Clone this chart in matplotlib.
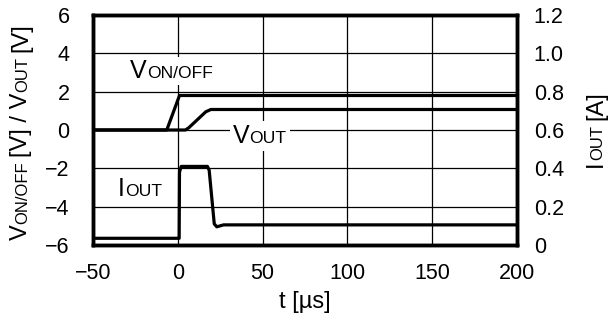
import matplotlib
matplotlib.use("Agg")
import matplotlib.pyplot as plt
from matplotlib.patches import Rectangle
from matplotlib.transforms import IdentityTransform

plt.rcParams['font.family'] = ['Liberation Sans', 'DejaVu Sans']

# traces
t_onoff = [-50, -6.5, 1.0, 200]
v_onoff = [0, 0, 1.8, 1.8]

t_vout = [-50, 4.5, 6.5, 16.5, 19.5, 200]
v_vout = [0, 0, 0.12, 0.95, 1.07, 1.07]

t_iout = [-50, 0.8, 1.0, 2.0, 17.5, 18.5, 21.5, 23.0, 27.0, 200]
i_iout = [0.035, 0.035, 0.38, 0.41, 0.41, 0.39, 0.11, 0.095, 0.105, 0.105]

x_ticks = [-50, 0, 50, 100, 150, 200]
v_ticks = [-6, -4, -2, 0, 2, 4, 6]
i_ticks = [0, 0.2, 0.4, 0.6, 0.8, 1.0, 1.2]
i_tick_labels = ["0", "0.2", "0.4", "0.6", "0.8", "1.0", "1.2"]

TICK_FS = 15.5
BIG = 17
SMALL = 12
LBL_BIG = 18
LBL_SMALL = 12.6


def rich_text(fig, x, y, pieces, rotation=0, background=None, ax=None):
    """Draw text pieces of different sizes on one baseline, start at (x, y) px."""
    r = fig.canvas.get_renderer()
    arts = []
    for s, size in pieces:
        if s is None:  # a gap in pixels
            if rotation == 90:
                y += size
            else:
                x += size
            continue
        t = fig.text(x / fig.bbox.width, y / fig.bbox.height, s, fontsize=size,
                     rotation=rotation, rotation_mode='anchor',
                     ha='left', va='baseline', zorder=5)
        bb = t.get_window_extent(r)
        if rotation == 90:
            y = bb.y1
        else:
            x = bb.x1
        arts.append(bb)
    if background is not None:
        x0 = min(b.x0 for b in arts) - background
        x1 = max(b.x1 for b in arts) + background
        y0 = min(b.y0 for b in arts) - background
        y1 = max(b.y1 for b in arts) + background
        ax.add_patch(Rectangle((x0, y0), x1 - x0, y1 - y0, transform=IdentityTransform(),
                               facecolor='white', edgecolor='none', zorder=2.5))
    return arts


def main():
    fig = plt.figure(figsize=(6.09, 3.24), dpi=100)
    ax = fig.add_axes([93 / 609, 1 - 245 / 324, 424 / 609, 230 / 324])
    ax2 = ax.twinx()

    ax.plot(t_onoff, v_onoff, color='black', lw=2.3, zorder=3)
    ax.plot(t_vout, v_vout, color='black', lw=2.3, zorder=3)
    ax2.plot(t_iout, i_iout, color='black', lw=2.3, zorder=3)

    ax.set_xlim(-50, 200)
    ax.set_ylim(-6, 6)
    ax2.set_ylim(0, 1.2)
    ax.set_xticks(x_ticks)
    ax.set_yticks(v_ticks)
    ax2.set_yticks(i_ticks)
    ax2.set_yticklabels(i_tick_labels)

    ax.grid(True, color='black', lw=0.9)
    ax.tick_params(axis='y', length=0, pad=17, labelsize=TICK_FS)
    ax.tick_params(axis='x', length=0, pad=13, labelsize=TICK_FS)
    ax2.tick_params(axis='y', length=0, pad=12, labelsize=TICK_FS)
    for a in (ax, ax2):
        for sp in a.spines.values():
            sp.set_linewidth(2.5)
            sp.set_color('black')

    ax.set_xlabel("t [µs]", fontsize=BIG, labelpad=5)

    fig.canvas.draw()
    H = fig.bbox.height

    # axis titles with small-caps style subscripts
    rich_text(fig, 27, H - 240,
              [("V", BIG), ("ON/OFF", SMALL), (None, 5), ("[V] / V", BIG),
               ("OUT", SMALL), (None, 5), ("[V]", BIG)], rotation=90)
    rich_text(fig, 602, H - 167,
              [("I", BIG), ("OUT", SMALL), (None, 5), ("[A]", BIG)], rotation=90)

    # curve labels
    px, py = ax.transData.transform((-28, 2.7))
    rich_text(fig, px, py, [("V", LBL_BIG), ("ON/OFF", LBL_SMALL)], background=2, ax=ax)
    px, py = ax.transData.transform((32.5, -0.68))
    rich_text(fig, px, py, [("V", LBL_BIG), ("OUT", LBL_SMALL)], background=3, ax=ax)
    px, py = ax.transData.transform((-35.3, -3.45))
    rich_text(fig, px, py, [("I", LBL_BIG), ("OUT", LBL_SMALL)], background=2, ax=ax)

    fig.savefig("out.png", dpi=100)


if __name__ == '__main__':
    main()
